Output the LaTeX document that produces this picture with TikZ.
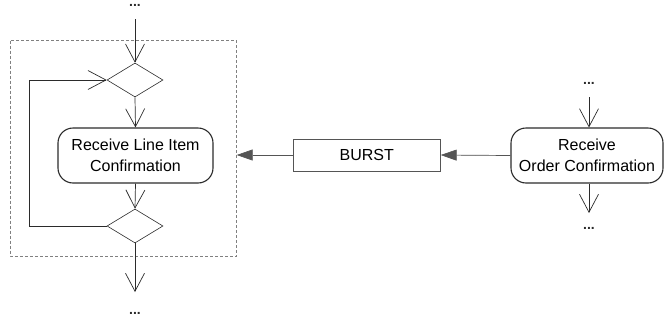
\documentclass[tikz,border=0pt]{standalone}
\usepackage{fontspec}
\setmainfont{Liberation Sans}
\usetikzlibrary{arrows.meta,shapes.geometric}
\definecolor{ink}{HTML}{2B2B2B}
\definecolor{wire}{HTML}{555555}
\tikzset{
  action/.style={draw=ink, line width=1.1pt, rounded corners=15pt, minimum width=155pt, minimum height=55pt, align=center, font=\fontsize{16}{21}\selectfont, inner sep=0pt},
  burstbox/.style={draw=wire, line width=0.8pt, minimum width=147pt, minimum height=32pt, font=\fontsize{16}{19}\selectfont, inner sep=0pt},
  choice/.style={draw=ink, line width=0.6pt, diamond, minimum width=56pt, minimum height=34pt, inner sep=0pt, aspect=1.65},
  flow/.style={draw=ink, line width=0.7pt, -{Straight Barb[length=18pt,width=19pt,line width=0.7pt]}},
  plain/.style={draw=ink, line width=0.7pt},
  signal/.style={draw=wire, line width=0.7pt, -{Triangle[length=16pt,width=11pt]}, color=wire, fill=ink},
  more/.style={font=\bfseries\fontsize{14}{14}\selectfont, inner sep=0pt, anchor=base, text=ink, text height=2.5pt, text depth=0pt},
  region/.style={draw=gray, dashed, line width=0.6pt, dash pattern=on 3pt off 2pt}
}
\begin{document}
\begin{tikzpicture}[x=1pt,y=-1pt]
  \useasboundingbox (0,0) rectangle (665,322);

  % expansion region around the per-item loop
  \draw[region] (10.5,40.5) rectangle (236.7,256);

  % left flow
  \node[more] (topdots) at (135,6) {...};
  \coordinate (topin) at (135,19);
  \node[choice] (merge) at (135,80) {};
  \node[action] (line) at (135.5,155.5) {Receive Line Item\\Confirmation};
  \node[choice] (decide) at (135,226) {};
  \coordinate (botout) at (135,292);
  \node[more] (botdots) at (135,314.5) {...};
  \coordinate (loopbot) at (29,226);
  \coordinate (looptop) at (29,80);

  \draw[flow] (topin) -- (merge.north);
  \draw[flow] (merge.south) -- (line.north);
  \draw[flow] (line.south) -- (decide.north);
  \draw[flow] (decide.south) -- (botout);
  \draw[plain] (decide.west) -- (loopbot) -- (looptop);
  \draw[flow] (looptop) -- (merge.west);

  % burst object
  \node[burstbox] (burst) at (366.8,155) {BURST};

  % right flow
  \node[action, minimum width=152pt] (order) at (587,155.5) {Receive\\Order Confirmation};
  \node[more] (rtopdots) at (589,84.5) {...};
  \coordinate (rtopin) at (589,97);
  \coordinate (rbotout) at (589,213);
  \node[more] (rbotdots) at (589,229.5) {...};

  \draw[flow] (rtopin) -- (rtopin |- order.north);
  \draw[flow] (rbotout |- order.south) -- (rbotout);

  % data flow into the region
  \coordinate (regionin) at (236.7,155);
  \draw[signal] (order.west) -- (burst.east);
  \draw[signal] (burst.west) -- (regionin);
\end{tikzpicture}
\end{document}
